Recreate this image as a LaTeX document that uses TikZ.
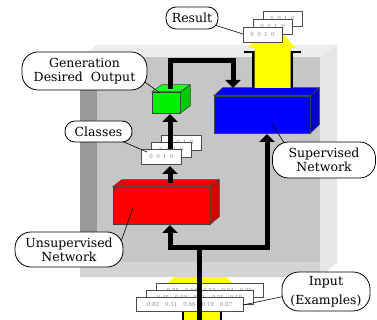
\documentclass[tikz,border=0pt]{standalone}
\usepackage{fontspec}
\setmainfont{DejaVu Serif}
\usetikzlibrary{arrows.meta}

\definecolor{boxface}{HTML}{C6C6C6}
\definecolor{boxleft}{HTML}{9A9A9A}
\definecolor{boxfloor}{HTML}{D4D4D4}
\definecolor{boxside}{HTML}{E6E6E6}
\definecolor{boxtop}{HTML}{EDEDED}
\definecolor{flowyellow}{HTML}{FFFF00}
\definecolor{redfront}{HTML}{FF0000}
\definecolor{redtop}{HTML}{F40000}
\definecolor{redside}{HTML}{D80000}
\definecolor{bluefront}{HTML}{0000FF}
\definecolor{bluetop}{HTML}{0000EC}
\definecolor{blueside}{HTML}{0000C8}
\definecolor{greenfront}{HTML}{00F000}
\definecolor{greentop}{HTML}{22FF22}
\definecolor{greenside}{HTML}{00C800}

\tikzset{
  slabface/.style={draw=black!75, line width=0.5pt, inner sep=0pt},
  card/.style={draw=black!70, fill=white, line width=0.5pt, inner sep=0pt,
    text=black!45, font=\fontsize{5.5}{6}\selectfont},
  callout/.style={draw=black, line width=0.8pt, fill=white, inner sep=0pt,
    align=center, font=\fontsize{12.5}{14}\selectfont},
  wire/.style={line width=5pt, line join=miter},
  conn/.style={wire, -{Triangle[width=15pt,length=8pt]}},
  pointer/.style={line width=0.6pt, black}
}

\begin{document}
\begin{tikzpicture}[x=1pt,y=-1pt]
\useasboundingbox (0,0) rectangle (377,320);
\fill[white] (0,0) rectangle (377,320);

% incoming yellow arrow, passing behind the box
\fill[flowyellow] (180,271) -- (220,271) -- (232,283) -- (220,283) -- (220,320)
  -- (184,320) -- (184,283) -- (168,283) -- cycle;
\draw[line width=2pt] (168,285) -- (183,285) -- (183,320);
\draw[line width=2pt] (232,285) -- (221,285) -- (221,320);

% the box
\fill[boxface] (80,57) rectangle (320,277);
\fill[boxleft] (80,57) rectangle (97,262);
\fill[boxfloor] (80,262) rectangle (320,277);
\fill[boxtop] (80,57) -- (97,45) -- (337,45) -- (320,57) -- cycle;
\fill[boxside] (320,57) -- (337,45) -- (337,263) -- (320,277) -- cycle;

% unsupervised network block
\node[slabface, fill=redfront, minimum width=97pt, minimum height=37pt] (red) at (161.5,205.5) {};
\filldraw[redtop, draw=black!75, line width=0.5pt] (red.north west) -- ++(9,-7) -- ++(97,0) -- (red.north east) -- cycle;
\filldraw[redside, draw=black!75, line width=0.5pt] (red.north east) -- ++(9,-7) -- ++(0,37) -- (red.south east) -- cycle;

% supervised network block
\node[slabface, fill=bluefront, minimum width=96pt, minimum height=37pt] (blue) at (262,114.5) {};
\filldraw[bluetop, draw=black!75, line width=0.5pt] (blue.north west) -- ++(9,-8) -- ++(96,0) -- (blue.north east) -- cycle;
\filldraw[blueside, draw=black!75, line width=0.5pt] (blue.north east) -- ++(9,-8) -- ++(0,37) -- (blue.south east) -- cycle;

% desired output generator
\node[slabface, fill=greenfront, minimum width=28pt, minimum height=21pt] (green) at (166,102.5) {};
\filldraw[greentop, draw=black!75, line width=0.5pt] (green.north west) -- ++(10,-7) -- ++(28,0) -- (green.north east) -- cycle;
\filldraw[greenside, draw=black!75, line width=0.5pt] (green.north east) -- ++(10,-7) -- ++(0,21) -- (green.south east) -- cycle;

% outgoing yellow arrow
\draw[line width=2.5pt] (244,52) -- (253.5,52) -- (253.5,88);
\draw[line width=2.5pt] (301,52) -- (291.5,52) -- (291.5,88);
\fill[flowyellow] (254.5,88) -- (254.5,48) -- (248,48) -- (272,22) -- (296,48) -- (290.5,48) -- (290.5,88) -- cycle;

% result cards
\node[card, minimum width=39pt, minimum height=15pt] (res3) at (282.5,18.5) {0\hspace{3.5pt}0\hspace{3.5pt}1\hspace{3.5pt}0};
\node[card, minimum width=39pt, minimum height=15pt] (res2) at (272.5,26.5) {0\hspace{3.5pt}0\hspace{3.5pt}1\hspace{3.5pt}0};
\node[card, minimum width=39pt, minimum height=15pt] (res1) at (262.5,34.5) {0\hspace{3.5pt}0\hspace{3.5pt}1\hspace{3.5pt}0};

% class cards
\node[card, minimum width=40pt, minimum height=15pt] (cls3) at (181.5,142.5) {0\hspace{3.5pt}0\hspace{3.5pt}1\hspace{3.5pt}0};
\node[card, minimum width=40pt, minimum height=15pt] (cls2) at (171.5,149.5) {0\hspace{3.5pt}0\hspace{3.5pt}1\hspace{3.5pt}0};
\node[card, minimum width=40pt, minimum height=15pt] (cls1) at (161.5,156.5) {0\hspace{3.5pt}0\hspace{3.5pt}1\hspace{3.5pt}0};

% input example cards
\node[card, minimum width=107pt, minimum height=14pt] (in3) at (209.5,290) {0.85\hspace{6pt}0.64\hspace{6pt}0.52\hspace{6pt}0.94\hspace{6pt}0.33};
\node[card, minimum width=107pt, minimum height=14pt] (in2) at (199.5,297) {0.45\hspace{6pt}0.58\hspace{6pt}0.21\hspace{6pt}0.35\hspace{6pt}0.18};
\node[card, minimum width=107pt, minimum height=14pt] (in1) at (189.5,304) {0.82\hspace{6pt}0.31\hspace{6pt}0.66\hspace{6pt}0.19\hspace{6pt}0.07};

% connector end points
\coordinate (inbot) at (199,320);
\coordinate (split) at (199,247);
\coordinate (redin) at (170,225);
\coordinate (bluein) at (267,134);
\coordinate (redout) at (170,183);
\coordinate (clsin) at (170,166);
\coordinate (clsout) at (170,149);
\coordinate (greenin) at (170,114);
\coordinate (greenout) at (170,89);
\coordinate (loopl) at (170,60.5);
\coordinate (loopr) at (233,60.5);
\coordinate (bluetopin) at (233,88);

% black data paths
\draw[wire] (inbot) -- (split);
\draw[conn] (split) -| (redin);
\draw[conn] (split) -| (bluein);
\draw[conn] (redout) -- (clsin);
\draw[conn] (clsout) -- (greenin);
\draw[conn] (greenout) -- (loopl) -- (loopr) -- (bluetopin);

% callout pointers (their feet sit under the callouts)
\coordinate (resfoot) at (205,22);   \coordinate (restip) at (243,34);
\coordinate (genfoot) at (135,75);   \coordinate (gentip) at (160,93);
\coordinate (clsfoot) at (110,136);  \coordinate (clstip) at (147,152);
\coordinate (supfoot) at (290,152);  \coordinate (suptip) at (272,124);
\coordinate (unsfoot) at (118,250);  \coordinate (unstip) at (133,208);
\coordinate (inpfoot) at (295,294);  \coordinate (inptip) at (243,305);
\draw[pointer] (resfoot) -- (restip);
\draw[pointer] (genfoot) -- (gentip);
\draw[pointer] (clsfoot) -- (clstip);
\draw[pointer] (supfoot) -- (suptip);
\draw[pointer] (unsfoot) -- (unstip);
\draw[pointer] (inpfoot) -- (inptip);

% callouts
\node[callout, rounded corners=10pt, minimum width=52pt, minimum height=22pt] (reslbl) at (192,18) {Result};
\node[callout, rounded corners=16pt, minimum width=125pt, minimum height=38pt] (genlbl) at (84.5,71) {Generation\\Desired\ \ Output};
\node[callout, rounded corners=10pt, minimum width=67pt, minimum height=21pt] (clslbl) at (98.5,131.5) {Classes};
\node[callout, rounded corners=16pt, minimum width=103pt, minimum height=36pt] (suplbl) at (324,160) {Supervised\\Network};
\node[callout, rounded corners=16pt, minimum width=108pt, minimum height=35pt] (unslbl) at (69,249.5) {Unsupervised\\Network};
\node[callout, rounded corners=17pt, minimum width=88pt, minimum height=39pt, font=\fontsize{12.5}{19}\selectfont] (inplbl) at (326,291.5) {Input\\(Examples)};
\end{tikzpicture}
\end{document}
